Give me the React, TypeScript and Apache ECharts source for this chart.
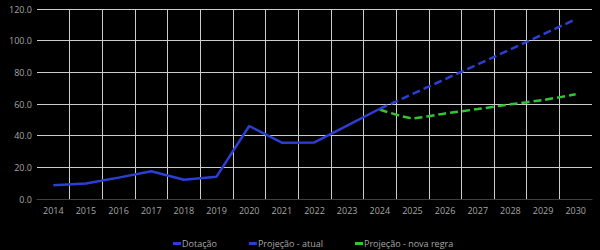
import React, { useEffect, useRef } from "react";
import * as echarts from "echarts";

const categories = ["2014","2015","2016","2017","2018","2019","2020","2021","2022","2023","2024","2025","2026","2027","2028","2029","2030"];
const dotacao = [8.7, 9.8, 13.5, 17.5, 12.2, 14.1, 46.1, 35.6, 35.7, 46.3, 57.0, null, null, null, null, null, null];
const projAtual = [null, null, null, null, null, null, null, null, null, null, 57.0, 66.3, 75.7, 85.0, 94.5, 104.0, 113.5];
const projNova = [null, null, null, null, null, null, null, null, null, null, 56.5, 51.0, 54.0, 56.8, 59.8, 62.5, 66.1];
const yTicks = { min: 0, max: 120, interval: 20 };

const TEXT = "#a6a6a6";
const GRID = "#cccccc";
const BLUE = "#2b3fd4";
const GREEN = "#33c433";
const FONT = "Open Sans";

export default function App() {
  const ref = useRef<HTMLDivElement>(null);
  useEffect(() => {
    const chart = echarts.init(ref.current!, null, { renderer: "svg" });
    chart.setOption({
      animation: false,
      backgroundColor: "#000000",
      textStyle: { fontFamily: FONT },
      grid: { left: 37, right: 8, top: 9, bottom: 51, containLabel: false },
      legend: {
        left: 168,
        top: 234,
        itemWidth: 8,
        itemHeight: 3,
        itemGap: 32,
        icon: "rect",
        textStyle: { color: TEXT, fontSize: 9, fontFamily: FONT, padding: [0, 0, 0, -4] },
        data: ["Dotação", "Projeção - atual", "Projeção - nova regra"],
      },
      xAxis: {
        type: "category",
        data: categories,
        boundaryGap: true,
        axisLine: { show: true, lineStyle: { color: "#404040", width: 1 } },
        axisTick: { show: false },
        axisLabel: { color: TEXT, fontSize: 9, fontFamily: FONT, margin: 7, interval: 0 },
        splitLine: { show: true, interval: 0, showMinLine: false, showMaxLine: false, lineStyle: { color: GRID, width: 1 } },
      },
      yAxis: {
        type: "value",
        min: yTicks.min,
        max: yTicks.max,
        interval: yTicks.interval,
        axisLine: { show: false },
        axisTick: { show: false },
        axisLabel: { color: TEXT, fontSize: 9, fontFamily: FONT, margin: 5, formatter: (v: number) => v.toFixed(1) },
        splitLine: { show: true, lineStyle: { color: GRID, width: 1 } },
      },
      series: [
        {
          name: "Dotação",
          type: "line",
          data: dotacao,
          showSymbol: false,
          symbol: "none",
          itemStyle: { color: BLUE },
          lineStyle: { color: BLUE, width: 2.5 },
          z: 3,
        },
        {
          name: "Projeção - atual",
          type: "line",
          data: projAtual,
          showSymbol: false,
          symbol: "none",
          itemStyle: { color: BLUE },
          lineStyle: { color: BLUE, width: 2.5, type: [8, 4] },
          z: 3,
        },
        {
          name: "Projeção - nova regra",
          type: "line",
          data: projNova,
          showSymbol: false,
          symbol: "none",
          smooth: 0.2,
          itemStyle: { color: GREEN },
          lineStyle: { color: GREEN, width: 2.5, type: [8, 4] },
          z: 2,
        },
      ],
    });
    return () => chart.dispose();
  }, []);
  return (
    <div
      ref={ref}
      style={{ position: "fixed", left: 0, top: 0, width: 600, height: 250, background: "#000" }}
    />
  );
}
